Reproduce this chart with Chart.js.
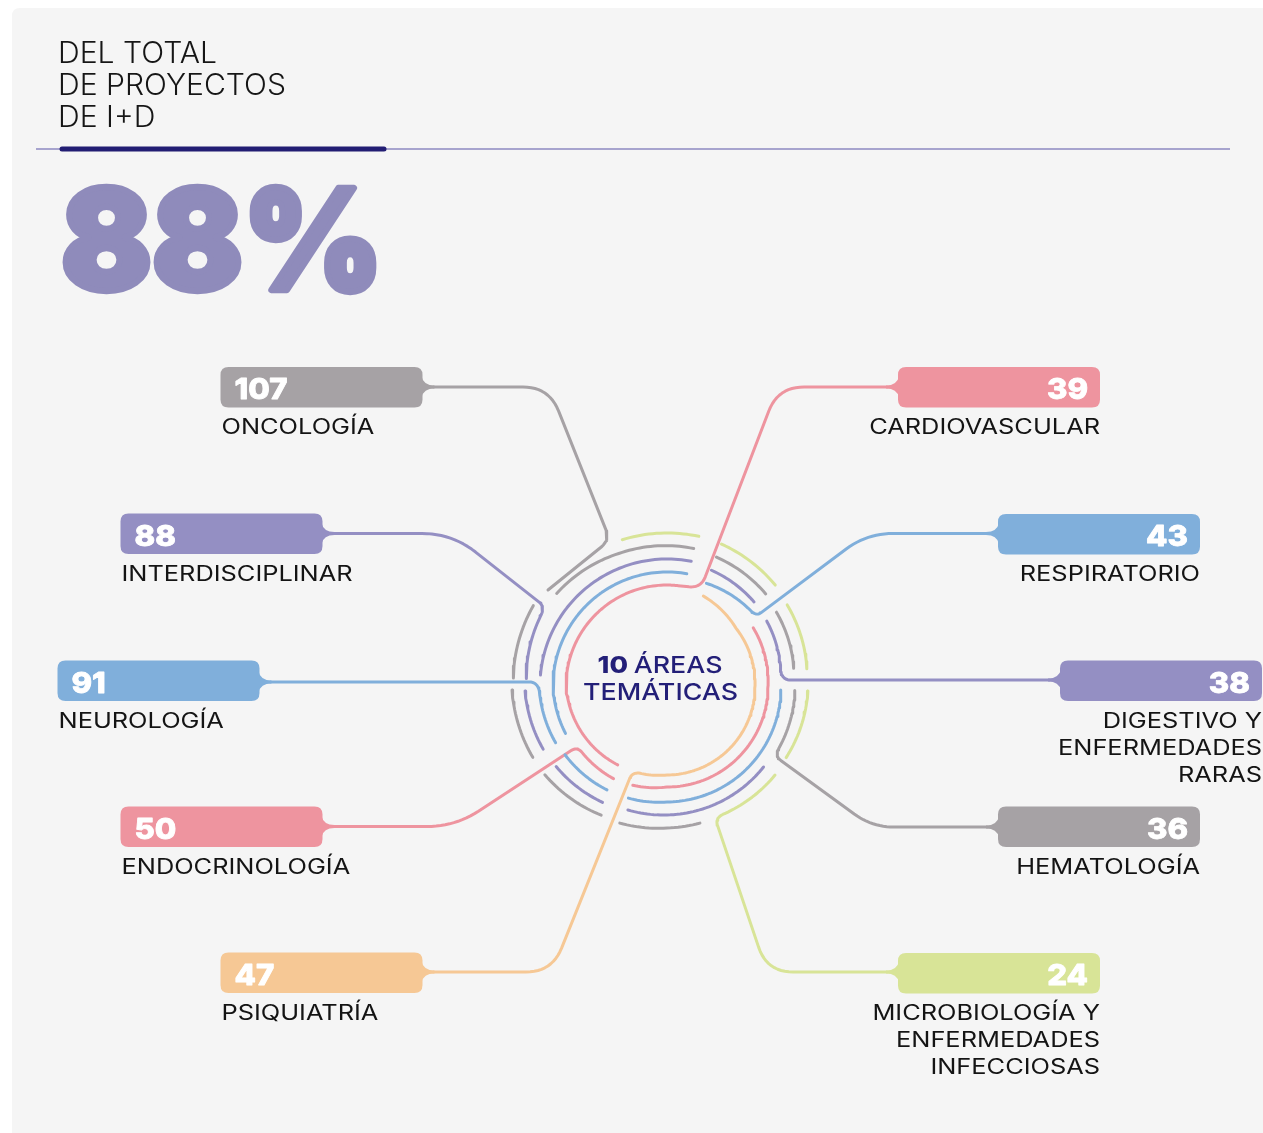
<!DOCTYPE html>
<html>
<head>
<meta charset="utf-8">
<script src="https://cdn.jsdelivr.net/npm/chart.js@4.4.1/dist/chart.umd.min.js"></script>
<style>
  html, body { margin: 0; padding: 0; background: #ffffff; }
  canvas { display: block; }
</style>
</head>
<body>
<canvas id="chart" width="1263" height="1133" style="width:1263px;height:1133px"></canvas>
<script>
// ---------------- DATA ----------------
const headlineLines = ['DEL TOTAL', 'DE PROYECTOS', 'DE I+D'];
const headlineValue = '88%';
const centerCount = '10';
const centerWords = ['ÁREAS', 'TEMÁTICAS'];
const categories = [
  'ONCOLOGÍA', 'INTERDISCIPLINAR', 'NEUROLOGÍA', 'ENDOCRINOLOGÍA', 'PSIQUIATRÍA',
  'CARDIOVASCULAR', 'RESPIRATORIO', 'DIGESTIVO Y\nENFERMEDADES\nRARAS', 'HEMATOLOGÍA',
  'MICROBIOLOGÍA Y\nENFERMEDADES\nINFECCIOSAS'
];
const projectCounts = [107, 88, 91, 50, 47, 39, 43, 38, 36, 24];

// ---------------- STYLES ----------------
const COL = {
  gray: '#a6a2a5', purple: '#948fc3', blue: '#80afdb',
  pink: '#ee949f', orange: '#f6c895', lime: '#d8e497'
};
const areaColors = [COL.gray, COL.purple, COL.blue, COL.pink, COL.orange,
                    COL.pink, COL.blue, COL.purple, COL.gray, COL.lime];
const FONT = 'Inter, "Noto Sans", "Open Sans", sans-serif';

// ---------------- LAYOUT ----------------
const W = 1263, H = 1133;
const CX = 667, CY = 686;           // ring centre
const BOX_W = 202, BOX_H = 40.5;
const boxes = [
  { x: 220.5, y: 367,   side: 'L', lineY: 387 },
  { x: 120.5, y: 513.5, side: 'L', lineY: 533.5 },
  { x: 57.5,  y: 660.5, side: 'L', lineY: 682 },
  { x: 120.5, y: 806.5, side: 'L', lineY: 826.5 },
  { x: 220.5, y: 952.5, side: 'L', lineY: 972 },
  { x: 898,   y: 367,   side: 'R', lineY: 387 },
  { x: 998,   y: 514,   side: 'R', lineY: 533.5 },
  { x: 1060,  y: 660.5, side: 'R', lineY: 680 },
  { x: 998,   y: 806.5, side: 'R', lineY: 827 },
  { x: 898,   y: 953,   side: 'R', lineY: 972 }
];
// connector bends [x, y, cornerRadius] and ring arc keys [angleDeg, radius]
const routes = [
  { bends: [[549, 387, 26], [610, 540, 12]], end: [548, 590] },
  { bends: [[452, 533.5, 30]], arc: [[-147, 145], [-177, 141]], j: 8 },
  { bends: [], arc: [[181.8, 128], [176, 127.5], [153, 125]], j: 10 },
  { bends: [[455, 826.5, 28]], arc: [[146, 108], [120, 107]], j: 8 },
  { bends: [[552, 972, 26]], arc: [[112, 92], [90, 89], [0, 88], [-40, 90], [-68, 97]], j: 8 },
  { bends: [[778, 387, 26], [701, 588, 12]], arc: [[-86, 101], [-180, 101], [-238, 93]], j: 4 },
  { bends: [[867, 533.5, 26]], arc: [[-38, 113], [-69, 110]], j: 6 },
  { bends: [], arc: [[-3, 114], [-15, 116], [-33, 119]], j: 10 },
  { bends: [[872, 827, 22]], arc: [[33, 128], [2, 128]], j: 8 },
  { bends: [[767, 972, 26]], arc: [[70, 140], [39.5, 140]], j: 8 }
];
// decorative ring pieces
const ringPieces = [
  { c: COL.gray,   k: [[-140, 144], [-110, 141], [-79, 140]] },
  { c: COL.gray,   k: [[-149, 156], [-177, 154]] },
  { c: COL.gray,   k: [[178.5, 155], [152, 152]] },
  { c: COL.gray,   k: [[144, 151], [117, 145]] },
  { c: COL.gray,   k: [[109, 145], [90, 142], [76.5, 141]] },
  { c: COL.gray,   k: [[-69, 138], [-43, 135]] },
  { c: COL.gray,   k: [[-34, 132], [-8, 128]] },
  { c: COL.lime,   k: [[-107, 153], [-78, 153]] },
  { c: COL.lime,   k: [[-69, 152], [-43, 148]] },
  { c: COL.lime,   k: [[-34, 145], [-7, 141]] },
  { c: COL.lime,   k: [[2, 141], [31, 139]] },
  { c: COL.purple, k: [[-79, 127], [-175, 127]] },
  { c: COL.purple, k: [[178, 142], [153, 139]] },
  { c: COL.purple, k: [[144, 137], [119, 133]] },
  { c: COL.purple, k: [[107.5, 130], [90, 129], [40, 126]] },
  { c: COL.purple, k: [[-69, 124], [-44, 121]] },
  { c: COL.blue,   k: [[-80, 114], [-180, 114], [-205, 112]] },
  { c: COL.blue,   k: [[146, 123], [120, 120]] },
  { c: COL.blue,   k: [[109, 118.6], [90, 116], [2, 114]] },
  { c: COL.pink,   k: [[109, 105], [90, 101], [0, 101], [-34, 104]] }
];

// ---------------- GEOMETRY HELPERS ----------------
const dist = (a, b) => Math.hypot(a[0] - b[0], a[1] - b[1]);
const lerpTo = (p, q, t) => [p[0] + (q[0] - p[0]) * t, p[1] + (q[1] - p[1]) * t];
function arcPoints(keys) {
  const out = [];
  for (let i = 0; i < keys.length - 1; i++) {
    const [a0, r0] = keys[i], [a1, r1] = keys[i + 1];
    const n = Math.max(2, Math.ceil(Math.abs(a1 - a0) / 1.5));
    for (let j = (i === 0 ? 0 : 1); j <= n; j++) {
      const t = j / n;
      const a = (a0 + (a1 - a0) * t) * Math.PI / 180;
      const r = r0 + (r1 - r0) * t;
      out.push([CX + r * Math.cos(a), CY + r * Math.sin(a)]);
    }
  }
  return out;
}
function buildRoute(start, route) {
  const arc = route.arc ? arcPoints(route.arc) : [];
  const nodes = [start, ...route.bends.map(b => [b[0], b[1]])];
  const radii = [0, ...route.bends.map(b => b[2])];
  if (arc.length) { nodes.push(arc[0]); radii.push(route.j); }
  else { nodes.push(route.end); radii.push(0); }
  const out = [nodes[0]];
  let arcFrom = 1;
  const last = nodes.length - 1;
  for (let i = 1; i <= last; i++) {
    const P = nodes[i], rad = radii[i];
    let next = null, nextIsArc = false;
    if (i < last) next = nodes[i + 1];
    else if (arc.length && rad > 0) {
      let k = 1;
      while (k < arc.length - 1 && dist(arc[k], P) < rad) k++;
      next = arc[k]; arcFrom = k + 1; nextIsArc = true;
    }
    if (!next || rad <= 0) { out.push(P); continue; }
    const prev = nodes[i - 1];
    const d1 = dist(prev, P), d2 = dist(next, P);
    const r1 = Math.min(rad, d1 / 2), r2 = nextIsArc ? d2 : Math.min(rad, d2 / 2);
    const p1 = lerpTo(P, prev, r1 / d1), p2 = lerpTo(P, next, r2 / d2);
    for (let s = 0; s <= 12; s++) {
      const t = s / 12, u = 1 - t;
      out.push([u * u * p1[0] + 2 * u * t * P[0] + t * t * p2[0],
                u * u * p1[1] + 2 * u * t * P[1] + t * t * p2[1]]);
    }
  }
  if (arc.length) out.push(...arc.slice(arcFrom));
  return out;
}
function lineDataset(pts, color) {
  return {
    data: pts.map(([x, y]) => ({ x, y })),
    showLine: true, borderColor: color, backgroundColor: color, borderWidth: 3,
    borderCapStyle: 'round', borderJoinStyle: 'round', pointRadius: 0,
    pointHoverRadius: 0, fill: false, tension: 0
  };
}

const datasets = [];
ringPieces.forEach(p => datasets.push(lineDataset(arcPoints(p.k), p.c)));
routes.forEach((r, i) => {
  const b = boxes[i];
  const start = b.side === 'L' ? [b.x + BOX_W + 11, b.lineY] : [b.x - 11, b.lineY];
  datasets.push(lineDataset(buildRoute(start, r), areaColors[i]));
});

// ---------------- TEXT HELPERS ----------------
function capFont(ctx, weight, capPx, sample) {
  ctx.font = `${weight} 100px ${FONT}`;
  const m = ctx.measureText(sample || 'H');
  const ratio = m.actualBoundingBoxAscent / 100;
  return `${weight} ${(capPx / ratio).toFixed(2)}px ${FONT}`;
}
function widthScale(ctx, font, text, target) {
  ctx.font = font;
  return target / ctx.measureText(text).width;
}
function drawText(ctx, text, x, y, font, color, sx, align, strokeW) {
  ctx.save();
  ctx.font = font; ctx.fillStyle = color; ctx.textBaseline = 'alphabetic'; ctx.textAlign = 'left';
  const w = ctx.measureText(text).width * sx;
  const left = align === 'right' ? x - w : align === 'center' ? x - w / 2 : x;
  ctx.translate(left, y); ctx.scale(sx, 1); ctx.fillText(text, 0, 0);
  if (strokeW) {
    ctx.strokeStyle = color; ctx.lineJoin = 'round'; ctx.lineWidth = strokeW;
    ctx.strokeText(text, 0, 0);
  }
  ctx.restore();
  return w;
}
function roundRect(ctx, x, y, w, h, r) {
  ctx.beginPath();
  ctx.moveTo(x + r, y); ctx.lineTo(x + w - r, y); ctx.quadraticCurveTo(x + w, y, x + w, y + r);
  ctx.lineTo(x + w, y + h - r); ctx.quadraticCurveTo(x + w, y + h, x + w - r, y + h);
  ctx.lineTo(x + r, y + h); ctx.quadraticCurveTo(x, y + h, x, y + h - r);
  ctx.lineTo(x, y + r); ctx.quadraticCurveTo(x, y, x + r, y); ctx.closePath();
}

const infographic = {
  id: 'infographic',
  beforeDatasetsDraw(chart) {
    const { ctx } = chart;
    const X = v => chart.scales.x.getPixelForValue(v);
    const Y = v => chart.scales.y.getPixelForValue(v);
    ctx.save();
    // panel
    ctx.fillStyle = '#f5f5f5';
    roundRect(ctx, X(12), Y(8), X(W + 30) - X(12), Y(H + 30) - Y(8), 8);
    ctx.fill();
    // title
    const tFont = capFont(ctx, 300, 21.3);
    const tsx = widthScale(ctx, tFont, headlineLines[1], 228);
    const tBase = [63.3, 95.3, 127];
    headlineLines.forEach((t, i) => drawText(ctx, t, X(58), Y(tBase[i]), tFont, '#161616', tsx, 'left'));
    // rules
    ctx.strokeStyle = '#8d89c0'; ctx.lineWidth = 1.3;
    ctx.beginPath(); ctx.moveTo(X(36), Y(149)); ctx.lineTo(X(1230), Y(149)); ctx.stroke();
    ctx.strokeStyle = '#221d73'; ctx.lineWidth = 5; ctx.lineCap = 'round';
    ctx.beginPath(); ctx.moveTo(X(62), Y(149)); ctx.lineTo(X(384), Y(149)); ctx.stroke();
    // headline value (emboldened with a stroke)
    const SW = 6;
    ctx.font = `900 100px ${FONT}`;
    let m = ctx.measureText('8');
    const hSize = (111 - SW) / ((m.actualBoundingBoxAscent + m.actualBoundingBoxDescent) / 100);
    const hFont = `900 ${hSize.toFixed(2)}px ${FONT}`;
    ctx.font = hFont; m = ctx.measureText('8');
    const hsx = widthScale(ctx, hFont, headlineValue, 328 - SW);
    drawText(ctx, headlineValue, X(58 + SW / 2), Y(293.5 - SW / 2) - m.actualBoundingBoxDescent,
             hFont, '#8f8bbb', hsx, 'left', SW / hsx);
    // boxes with necks
    boxes.forEach((b, i) => {
      ctx.fillStyle = areaColors[i];
      roundRect(ctx, X(b.x), Y(b.y), BOX_W, BOX_H, 8);
      ctx.fill();
      const edge = b.side === 'L' ? b.x + BOX_W : b.x;
      const dir = b.side === 'L' ? 1 : -1;
      const ly = b.lineY;
      ctx.beginPath();
      ctx.moveTo(X(edge - dir * 1), Y(ly - 1.5 - 9));
      ctx.quadraticCurveTo(X(edge + dir * 1), Y(ly - 1.5), X(edge + dir * 12), Y(ly - 1.5));
      ctx.lineTo(X(edge + dir * 12), Y(ly + 1.5));
      ctx.quadraticCurveTo(X(edge + dir * 1), Y(ly + 1.5), X(edge - dir * 1), Y(ly + 1.5 + 9));
      ctx.closePath();
      ctx.fill();
    });
    ctx.restore();
  },
  afterDatasetsDraw(chart) {
    const { ctx } = chart;
    const X = v => chart.scales.x.getPixelForValue(v);
    const Y = v => chart.scales.y.getPixelForValue(v);
    ctx.save();
    // numbers
    const nFont = capFont(ctx, 800, 21.3, '1');
    const nsx = widthScale(ctx, nFont, '107', 53);
    const lFont = capFont(ctx, 400, 15.6);
    const lsx = widthScale(ctx, lFont, 'ENFERMEDADES', 204);
    boxes.forEach((b, i) => {
      const txt = String(projectCounts[i]);
      if (b.side === 'L') drawText(ctx, txt, X(b.x + 14), Y(b.y + 32.3), nFont, '#ffffff', nsx, 'left', 0.8);
      else drawText(ctx, txt, X(b.x + BOX_W - 12), Y(b.y + 32.3), nFont, '#ffffff', nsx, 'right', 0.8);
      const lines = categories[i].split('\n');
      lines.forEach((ln, k) => {
        const yb = b.y + BOX_H + 26.5 + k * 27;
        if (b.side === 'L') drawText(ctx, ln, X(b.x + 1), Y(yb), lFont, '#141414', lsx, 'left');
        else drawText(ctx, ln, X(b.x + BOX_W), Y(yb), lFont, '#141414', lsx, 'right');
      });
    });
    // centre text
    const cFont = capFont(ctx, 500, 17);
    const cBold = capFont(ctx, 800, 17, '1');
    const csx = widthScale(ctx, cFont, centerWords[1], 155);
    ctx.font = cBold; const w1 = ctx.measureText(centerCount).width * csx;
    ctx.font = cFont; const wsp = ctx.measureText(' ').width * csx * 0.8;
    const w2 = ctx.measureText(centerWords[0]).width * csx;
    const total = w1 + wsp + w2;
    const left = X(660) - total / 2;
    drawText(ctx, centerCount, left, Y(673.3), cBold, '#231f78', csx, 'left');
    drawText(ctx, centerWords[0], left + w1 + wsp, Y(673.3), cFont, '#231f78', csx, 'left');
    drawText(ctx, centerWords[1], X(660.5), Y(700), cFont, '#231f78', csx, 'center');
    ctx.restore();
  }
};

new Chart(document.getElementById('chart').getContext('2d'), {
  type: 'scatter',
  data: { datasets },
  options: {
    responsive: false,
    animation: false,
    devicePixelRatio: 1,
    events: [],
    layout: { padding: 0 },
    scales: {
      x: { type: 'linear', min: 0, max: W, display: false },
      y: { type: 'linear', min: 0, max: H, reverse: true, display: false }
    },
    plugins: { legend: { display: false }, tooltip: { enabled: false } }
  },
  plugins: [infographic]
});
</script>
</body>
</html>
